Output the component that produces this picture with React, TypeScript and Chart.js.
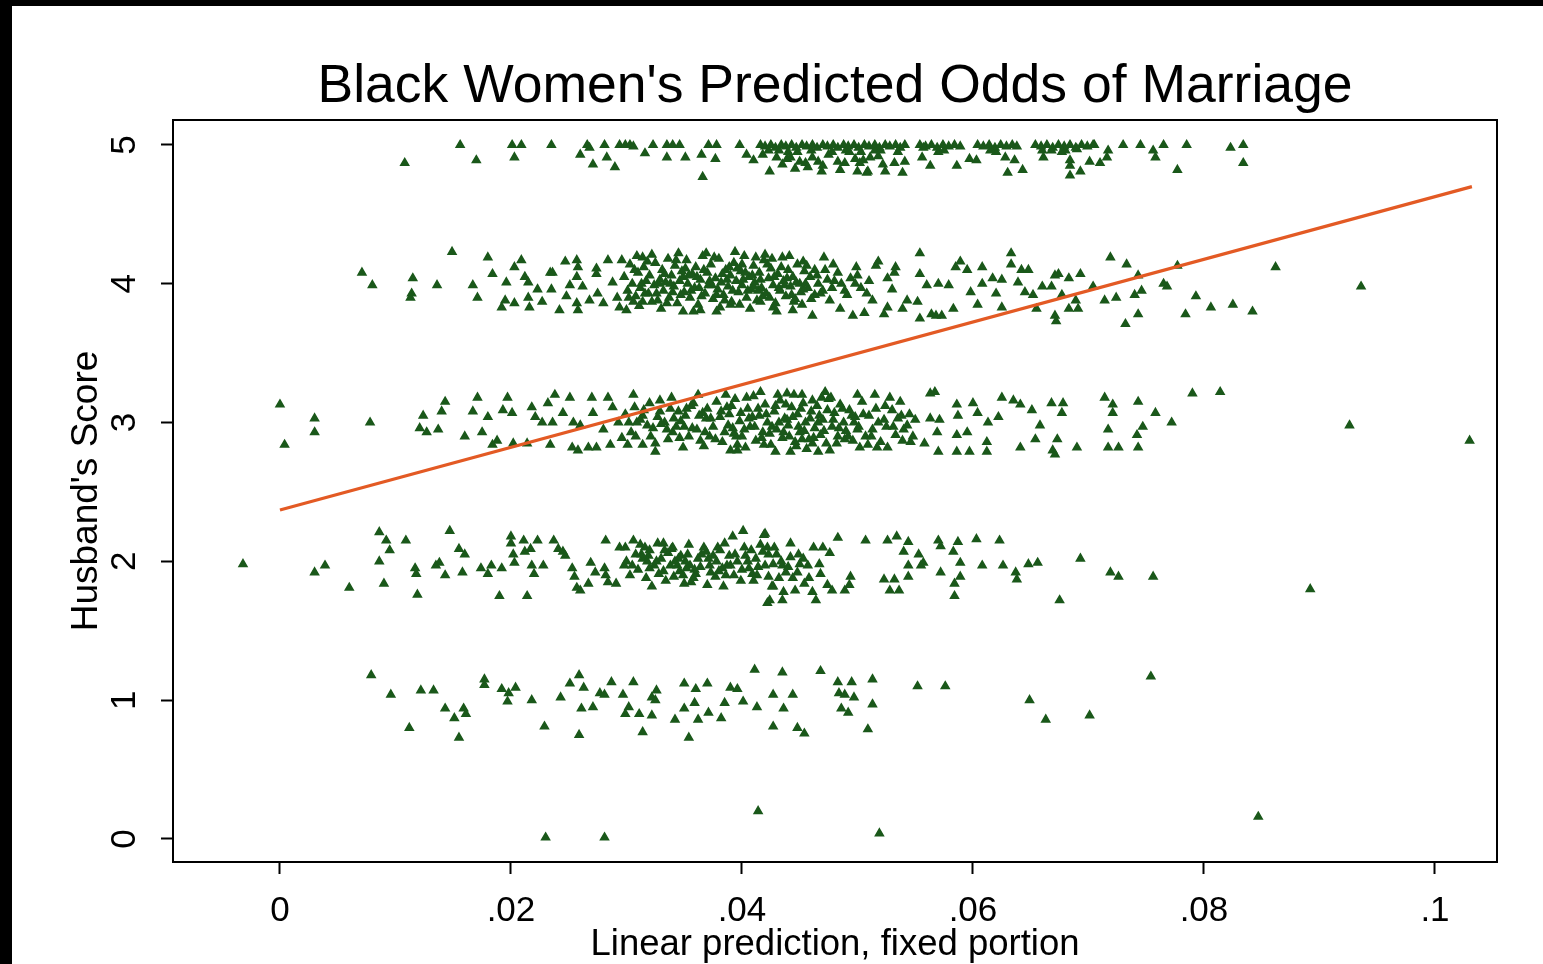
import React, { useEffect, useRef } from "react";
import { Chart, registerables } from "chart.js";

Chart.register(...registerables);

// x values are in thousandths of the linear prediction (x / 1000), y = husband's score (jittered)
const band5Points: [number, number][] = [
  [10.8, 4.87], [15.6, 5.0], [17.0, 4.89], [20.1, 5.0], [20.9, 5.0], [20.3, 4.91], [23.5, 5.0], [26.0, 4.93],
  [26.6, 5.0], [26.8, 4.98], [27.1, 4.86], [28.1, 5.0], [28.3, 4.91], [29.0, 4.84], [29.4, 5.0], [29.9, 5.0],
  [30.3, 5.0], [30.6, 4.99], [31.6, 4.94], [32.3, 5.0], [33.5, 5.0], [34.0, 5.0], [34.6, 5.0], [33.5, 4.91],
  [35.1, 4.91], [36.5, 4.93], [36.6, 4.77], [37.1, 5.0], [37.8, 5.0], [37.7, 4.9], [39.8, 5.0], [40.4, 4.93],
  [41.0, 4.89],
  [41.6, 5.0], [42.0, 4.99], [42.5, 5.0], [42.9, 4.98], [43.4, 5.0], [43.8, 4.99], [44.3, 5.0], [44.7, 4.98],
  [45.2, 5.0], [45.6, 4.99], [46.1, 5.0], [46.5, 4.98], [47.0, 5.0], [47.4, 4.99], [47.9, 5.0], [48.3, 4.98],
  [48.8, 5.0], [49.2, 4.99], [49.7, 5.0], [50.1, 4.98], [50.6, 5.0], [51.0, 4.99], [51.5, 5.0], [51.9, 4.98],
  [52.4, 5.0], [52.8, 4.99], [53.3, 5.0], [53.7, 4.98], [54.1, 5.0],
  [55.4, 5.0], [55.9, 4.99], [56.4, 5.0], [56.9, 4.98], [57.4, 5.0], [57.9, 4.99], [58.4, 5.0], [58.9, 4.99],
  [60.4, 5.0], [60.9, 4.99], [61.4, 5.0], [61.9, 4.98], [62.4, 5.0], [62.9, 4.99], [63.4, 5.0], [63.8, 4.99],
  [65.4, 5.0], [65.9, 4.99], [66.4, 5.0], [66.9, 4.98], [67.4, 5.0], [67.9, 4.99], [68.4, 5.0], [68.9, 4.98],
  [69.4, 5.0], [69.9, 4.99], [70.5, 5.0],
  [42.3, 4.96], [43.2, 4.96], [44.0, 4.95], [46.0, 4.96], [47.8, 4.95], [49.0, 4.96], [50.3, 4.95], [52.0, 4.96],
  [57.5, 4.96], [62.0, 4.95], [66.0, 4.96], [68.0, 4.96],
  [42.4, 4.81], [43.0, 4.91], [44.2, 4.91], [45.0, 4.88], [45.5, 4.87], [46.1, 4.91], [46.9, 4.81], [48.3, 4.88],
  [48.9, 4.87], [48.5, 4.82], [50.0, 4.81], [50.9, 4.81], [50.2, 4.87], [51.1, 4.91], [50.5, 4.89], [50.8, 4.8],
  [52.2, 4.86], [52.4, 4.81], [53.2, 4.87], [53.9, 4.8], [54.1, 4.88], [55.7, 4.98], [55.6, 4.91], [56.3, 4.85],
  [58.6, 4.85], [59.7, 4.9], [60.3, 4.89], [62.8, 4.91], [63.0, 4.8], [63.6, 4.89], [64.3, 4.82], [66.1, 4.91],
  [67.7, 4.95], [68.4, 4.89], [68.4, 4.85], [68.4, 4.78], [69.3, 4.81], [70.1, 4.88], [71.0, 4.87], [70.4, 5.0],
  [71.7, 4.96], [71.6, 4.91], [73.0, 5.0], [74.5, 5.0], [75.6, 4.96], [75.8, 4.91], [76.5, 5.0], [77.7, 4.82],
  [78.5, 5.0], [82.3, 4.98], [83.4, 5.0], [83.4, 4.87],
  [44.8, 4.95], [47.5, 4.93], [49.3, 4.95], [51.5, 4.96], [53.5, 4.95], [57.0, 4.95], [61.5, 4.96], [66.8, 4.96],
  [69.0, 4.97], [45.7, 4.84], [43.5, 4.86], [41.8, 4.93], [43.9, 4.9], [46.6, 4.88], [49.8, 4.9], [51.8, 4.92],
  [47.0, 4.85], [44.6, 4.83],
];

const band4Points: [number, number][] = [
  [7.1, 4.08], [8.0, 3.99], [11.5, 4.04], [11.4, 3.93], [11.3, 3.9], [13.6, 3.99], [14.9, 4.23], [16.7, 3.99],
  [17.1, 3.9], [18.0, 4.19], [18.4, 4.07], [19.2, 3.83], [19.5, 3.88], [19.6, 4.01], [20.3, 4.12], [20.3, 3.86],
  [20.9, 4.17], [21.2, 4.05], [21.5, 4.01], [21.5, 3.9], [21.6, 3.83], [22.3, 3.96], [22.7, 3.87], [23.4, 4.08],
  [23.6, 4.08], [24.2, 3.81], [23.5, 3.96], [24.7, 4.16], [24.8, 3.91], [25.1, 3.99], [25.7, 4.17], [25.8, 4.12],
  [25.7, 4.05], [25.7, 3.86], [25.8, 3.81], [26.2, 3.98], [26.8, 3.88], [27.4, 4.11], [27.4, 4.07], [27.5, 3.93],
  [28.0, 3.86], [28.4, 4.17], [28.8, 4.01], [29.2, 3.9], [29.4, 3.83], [30.0, 3.81], [30.6, 3.87], [31.4, 3.87],
  [31.4, 4.19], [32.2, 4.21], [34.9, 3.8], [36.4, 3.81], [37.8, 3.8], [39.0, 3.85], [41.6, 3.87], [42.7, 3.83],
  [44.4, 3.81],
  [45.2, 3.85], [45.3, 4.16], [45.5, 4.0], [46.1, 3.77], [46.3, 3.92], [47.1, 4.19], [47.9, 4.14], [48.3, 4.08],
  [48.5, 3.82], [49.1, 3.92], [49.6, 3.77], [49.9, 4.12], [50.0, 4.06], [50.6, 3.79], [51.3, 3.88], [51.6, 4.13],
  [51.8, 4.16], [52.3, 3.78], [52.6, 4.04], [52.6, 3.83], [53.0, 3.96], [53.2, 4.08], [53.3, 4.12], [53.9, 3.82],
  [54.3, 3.88], [55.2, 3.87], [55.4, 4.07], [55.4, 3.75], [55.4, 4.22], [56.0, 3.99], [56.4, 3.78], [56.8, 3.77],
  [57.0, 4.0], [57.3, 3.77], [57.9, 3.99], [58.3, 3.82], [58.5, 4.12], [58.9, 4.16], [59.5, 4.1], [59.8, 3.94],
  [60.4, 3.85], [60.8, 4.12], [60.8, 4.0], [61.7, 4.04], [62.0, 3.93], [62.5, 4.03], [62.5, 3.83], [63.3, 4.14],
  [63.3, 4.22], [63.9, 4.01], [64.2, 4.1], [64.5, 3.94], [64.8, 4.1], [65.2, 3.92], [65.5, 3.82], [66.0, 3.98],
  [66.8, 3.98], [67.1, 4.06], [67.4, 4.07], [67.1, 3.77], [67.2, 3.73], [67.7, 3.92], [68.3, 4.04], [68.3, 3.82],
  [68.9, 3.88], [69.1, 3.82], [69.3, 4.07], [70.4, 3.98], [71.4, 3.88], [71.9, 4.19], [72.4, 3.9], [73.2, 3.71],
  [73.3, 4.14], [74.0, 3.92], [74.3, 4.06], [74.3, 3.78], [74.6, 3.95], [76.5, 4.0], [76.8, 3.98], [77.7, 4.13],
  [78.4, 3.78], [79.3, 3.91], [80.6, 3.83], [82.5, 3.85], [84.2, 3.8], [86.2, 4.12], [93.6, 3.98],
  [29.8, 4.05], [30.1, 3.95], [30.3, 4.14], [30.5, 4.0], [30.8, 3.91], [31.0, 4.08], [31.2, 3.97], [31.5, 4.12],
  [31.7, 4.02], [31.9, 3.93], [32.0, 4.06], [32.4, 3.99], [32.5, 4.15], [32.7, 3.88], [32.9, 4.03], [33.1, 4.1],
  [33.2, 3.95], [33.4, 4.01], [33.6, 4.18], [33.7, 3.9], [33.9, 4.06], [34.1, 3.98], [34.2, 4.13], [34.4, 3.86],
  [34.6, 4.02], [34.8, 4.09], [35.0, 3.94], [35.2, 4.17], [35.3, 4.0], [35.5, 3.9], [35.7, 4.07], [35.9, 3.97],
  [36.0, 4.12], [36.2, 3.85], [36.4, 4.03], [36.6, 4.2], [36.8, 3.93], [37.0, 4.08], [37.1, 3.99], [37.3, 4.14],
  [37.5, 3.89], [37.7, 4.04], [37.9, 3.96], [38.0, 4.18], [38.2, 4.01], [38.4, 3.92], [38.6, 4.1], [38.8, 3.98],
  [39.0, 4.06], [39.1, 3.87], [39.3, 4.15], [39.5, 4.02], [39.7, 3.94], [39.9, 4.09], [40.0, 3.99], [40.2, 4.2],
  [40.4, 3.9], [40.6, 4.05], [40.8, 3.96], [41.0, 4.13], [41.1, 4.01], [41.3, 3.88], [41.5, 4.08], [41.7, 3.97],
  [41.9, 4.17], [42.1, 3.93], [42.3, 4.04], [42.5, 4.11], [42.7, 3.99], [42.9, 3.86], [43.1, 4.07], [43.3, 3.95],
  [43.5, 4.19], [43.6, 4.02], [43.8, 3.91], [44.0, 4.1], [44.2, 3.98], [44.4, 4.05], [44.6, 3.89], [44.8, 4.14],
  [45.0, 4.0], [45.1, 3.94], [45.4, 4.09], [45.7, 3.97], [45.9, 4.05], [46.3, 4.1], [46.6, 4.0], [47.0, 3.95],
  [47.4, 4.03], [47.8, 3.97], [48.6, 4.0], [49.4, 4.04], [50.3, 3.97], [51.0, 4.02], [29.6, 4.17], [31.1, 3.84],
  [33.0, 3.82], [35.8, 3.8], [38.1, 3.83], [40.7, 3.82], [43.0, 3.8], [36.9, 4.22], [39.4, 4.23], [34.5, 4.22],
  [42.0, 4.21], [44.1, 4.2], [30.9, 4.2], [32.6, 3.93], [34.9, 4.05], [37.4, 3.99], [40.1, 4.03], [41.4, 3.95],
  [30.2, 3.9], [30.7, 4.1], [31.3, 4.0], [31.8, 4.16], [32.2, 3.87], [32.8, 4.0], [33.3, 4.07], [33.5, 3.86],
  [34.0, 3.94], [34.3, 4.17], [34.7, 3.92], [35.1, 4.11], [35.6, 3.95], [36.1, 4.05], [36.5, 3.91], [36.7, 4.1],
  [37.2, 4.02], [37.6, 4.19], [38.3, 4.07], [38.5, 3.88], [38.9, 4.12], [39.2, 3.95], [39.6, 4.11], [39.8, 3.85],
  [40.3, 4.08], [40.5, 3.95], [40.9, 4.06], [41.2, 4.19], [41.6, 4.03], [41.8, 3.91], [42.2, 4.14], [42.4, 3.9],
  [42.8, 4.05], [43.2, 3.97], [43.4, 4.12], [43.9, 4.04], [44.3, 3.92], [44.7, 4.01], [45.3, 3.96], [45.6, 4.13],
  [46.0, 3.89], [46.5, 4.06], [47.2, 4.1], [47.6, 3.88], [48.0, 4.02], [48.9, 3.95], [49.8, 4.0], [50.8, 3.93],
  [33.8, 4.0], [36.3, 3.97], [38.7, 4.03], [41.0, 3.98], [43.7, 3.99], [35.4, 4.06], [37.8, 3.92], [40.0, 4.14],
  [42.6, 4.18], [44.5, 3.87], [46.8, 3.93], [31.6, 3.93],
];

const band3Points: [number, number][] = [
  [0.0, 3.13], [0.4, 2.84], [3.0, 3.03], [3.0, 2.93], [7.8, 3.0], [12.4, 3.05], [12.1, 2.96], [12.7, 2.93],
  [13.7, 2.95], [14.0, 3.08], [14.3, 3.15], [16.0, 2.9], [16.7, 3.08], [17.1, 3.18], [17.5, 2.93], [18.0, 3.04],
  [18.4, 2.84], [18.8, 2.87], [19.3, 3.09], [19.7, 3.18], [20.1, 3.07], [20.2, 2.85], [21.4, 2.85], [21.8, 3.11],
  [22.1, 3.04], [22.7, 3.0], [23.2, 3.14], [23.8, 3.2], [23.6, 3.0], [23.4, 2.84], [24.5, 3.07], [25.1, 3.18],
  [25.4, 3.0], [26.0, 2.98], [25.3, 2.82], [25.8, 2.8], [26.7, 2.82], [27.0, 3.18], [27.1, 3.07], [27.4, 2.82],
  [28.4, 3.18], [28.0, 2.95], [28.6, 2.84], [28.8, 3.11], [29.3, 3.0], [29.6, 2.89], [30.1, 2.84], [30.6, 3.2],
  [30.7, 3.11], [31.2, 3.02], [31.8, 2.98], [31.4, 2.84], [32.5, 2.85], [32.5, 2.79], [32.0, 3.14], [32.9, 3.16],
  [33.9, 3.18], [33.3, 3.0], [34.0, 2.93], [34.9, 2.82], [34.5, 3.08], [35.1, 3.05], [35.8, 3.14], [36.2, 3.2],
  [36.1, 2.95], [36.6, 3.07], [37.2, 2.9], [38.1, 3.04], [38.7, 3.11], [38.5, 2.93], [39.0, 2.8], [39.6, 2.84],
  [40.3, 2.82], [39.6, 2.8], [43.9, 3.21], [45.2, 3.2], [46.1, 3.16], [46.9, 3.18], [44.2, 2.79], [46.6, 2.79],
  [47.6, 2.8], [50.2, 2.82], [48.9, 2.88], [51.5, 3.2], [52.8, 3.18], [53.7, 3.15], [54.3, 2.98], [53.9, 2.87],
  [51.7, 2.82], [52.6, 2.82], [56.3, 3.21], [56.7, 3.22], [56.3, 3.03], [57.1, 3.02], [56.9, 2.93], [55.8, 2.85],
  [57.0, 2.79], [58.6, 3.13], [58.7, 3.05], [58.6, 2.91], [58.6, 2.79], [59.5, 2.93], [59.7, 2.79], [60.0, 3.14],
  [60.4, 3.07], [61.2, 2.86], [61.2, 2.79], [61.3, 3.0], [62.2, 3.04], [62.5, 3.18], [63.5, 3.16], [64.1, 3.13],
  [64.1, 2.82], [65.1, 3.09], [65.4, 2.88], [65.8, 2.98], [66.8, 3.14], [67.8, 3.14], [67.7, 3.07], [67.3, 2.88],
  [66.9, 2.8], [67.1, 2.77], [69.0, 2.82], [71.4, 3.18], [72.1, 3.13], [72.1, 3.07], [71.7, 2.95], [71.7, 2.82],
  [72.6, 2.82], [74.3, 3.15], [74.7, 2.97], [74.2, 2.91], [74.3, 2.82], [75.8, 3.07], [77.2, 3.0], [79.0, 3.21],
  [81.4, 3.22], [92.6, 2.98], [103.0, 2.87],
  [29.9, 3.06], [30.4, 2.93], [30.9, 3.0], [31.5, 3.09], [32.1, 2.9], [32.7, 3.04], [33.6, 2.88], [33.8, 3.1],
  [34.3, 2.97], [34.7, 3.01], [35.4, 2.9], [35.6, 3.12], [36.4, 2.87], [36.9, 3.03], [37.5, 2.97], [37.8, 3.15],
  [38.3, 2.86], [38.9, 3.06], [39.2, 2.96], [39.4, 3.17], [39.8, 3.01], [40.0, 2.9], [40.5, 3.1], [40.7, 2.97],
  [41.0, 3.19], [41.2, 2.87], [41.5, 3.05], [41.8, 2.93], [42.0, 3.13], [42.2, 3.0], [42.5, 2.84], [42.8, 3.08],
  [43.0, 2.95], [43.3, 3.16], [43.5, 2.89], [43.7, 3.03], [44.0, 2.98], [44.3, 3.11], [44.6, 2.86], [44.8, 3.06],
  [45.0, 2.93], [45.3, 3.14], [45.5, 3.0], [45.8, 2.88], [46.0, 3.08], [46.3, 2.96], [46.5, 3.12], [46.8, 2.91],
  [47.0, 3.02], [47.3, 2.85], [47.5, 3.17], [47.8, 2.97], [48.0, 3.07], [48.3, 2.9], [48.5, 3.13], [48.8, 3.0],
  [49.0, 2.94], [49.3, 3.09], [49.6, 2.87], [49.8, 3.04], [50.1, 2.97], [50.4, 3.15], [50.7, 2.9], [51.0, 3.05],
  [51.3, 2.95], [51.6, 3.1], [52.0, 2.86], [52.3, 3.02], [52.5, 2.97], [53.0, 3.09], [53.3, 2.91], [53.5, 3.03],
  [54.0, 2.95], [54.5, 3.06], [54.8, 2.9], [40.9, 3.04], [43.9, 3.02], [46.7, 3.05], [49.7, 3.0], [39.3, 2.92],
  [42.4, 2.92], [45.2, 2.88], [48.2, 2.85], [50.9, 2.84], [37.0, 3.1], [35.0, 2.97], [33.0, 2.99], [44.5, 3.2],
  [47.2, 3.22], [41.6, 3.22], [38.6, 3.2], [42.9, 2.79], [45.6, 2.81], [36.7, 2.83], [50.0, 3.2],
  [30.2, 3.0], [30.8, 2.9], [31.4, 3.05], [32.3, 2.96], [32.9, 3.08], [33.5, 2.95], [34.1, 3.03], [34.6, 2.89],
  [35.2, 3.1], [35.7, 2.96], [36.3, 3.05], [36.8, 2.93], [37.3, 3.03], [37.7, 2.88], [38.2, 3.08], [38.8, 2.98],
  [39.1, 3.12], [39.5, 2.9], [39.9, 3.07], [40.2, 2.95], [40.6, 3.03], [41.1, 2.97], [41.4, 3.1], [41.7, 2.89],
  [42.1, 3.06], [42.6, 2.97], [42.9, 3.12], [43.2, 3.0], [43.6, 2.93], [43.8, 3.13], [44.1, 2.9], [44.4, 3.04],
  [44.9, 2.97], [45.1, 3.1], [45.4, 2.94], [45.9, 3.03], [46.2, 2.89], [46.6, 3.0], [47.1, 2.94], [47.4, 3.09],
  [47.9, 3.02], [48.4, 2.96], [48.7, 3.1], [49.2, 2.9], [49.5, 3.05], [50.0, 2.95], [50.5, 3.06], [51.2, 2.9],
  [51.8, 3.0], [52.4, 3.12], [53.1, 2.97], [53.8, 3.05], [54.6, 2.86], [55.0, 3.02], [41.9, 2.84], [44.7, 2.83],
  [47.7, 3.18], [40.4, 3.18], [43.1, 3.2], [46.1, 2.85],
];

const band2Points: [number, number][] = [
  [-3.2, 1.98], [3.0, 1.92], [3.9, 1.97], [6.0, 1.81], [8.6, 2.21], [9.2, 2.15], [9.5, 2.08], [8.6, 2.0],
  [9.0, 1.84], [10.9, 2.15], [11.7, 1.95], [11.8, 1.91], [11.9, 1.76], [13.5, 1.97], [13.8, 1.99], [14.3, 1.9],
  [14.7, 2.22], [15.5, 2.09], [16.0, 2.05], [15.8, 1.92], [17.4, 1.95], [18.0, 1.91], [18.3, 1.97], [19.0, 1.75],
  [19.2, 1.95], [20.0, 2.18], [20.0, 2.13], [20.2, 2.05], [20.3, 1.99], [21.1, 2.15], [21.2, 2.07], [21.4, 1.75],
  [21.7, 2.09], [21.8, 1.97], [22.0, 1.91], [22.3, 2.15], [22.8, 1.97], [23.7, 2.15], [24.1, 2.09], [24.5, 2.07],
  [24.7, 2.04], [25.3, 1.95], [25.5, 1.89], [25.7, 1.81], [26.0, 1.79], [26.7, 1.84], [26.9, 1.99], [27.3, 1.92],
  [28.1, 1.95], [28.2, 1.9], [28.2, 2.15], [28.4, 1.85], [29.1, 1.84], [29.4, 2.1], [29.9, 2.1], [29.8, 1.97],
  [30.6, 2.15], [31.2, 2.12], [31.6, 2.1], [31.4, 2.02], [31.9, 2.04], [32.2, 1.82], [32.8, 1.91], [32.7, 2.13],
  [33.2, 2.13], [33.9, 2.09], [33.8, 1.97], [34.4, 1.97], [34.1, 1.89], [34.7, 2.04], [35.3, 2.05], [35.0, 1.84],
  [35.6, 1.85], [35.9, 1.94], [36.7, 2.1], [37.1, 2.02], [37.5, 2.04], [37.7, 1.89], [38.4, 1.82], [38.7, 1.97],
  [39.2, 2.18], [40.1, 2.22], [40.3, 2.04], [40.6, 1.95], [40.9, 1.91], [41.2, 2.02], [42.0, 2.2], [41.8, 2.07],
  [42.4, 1.72], [42.6, 1.82],
  [41.9, 2.19], [42.2, 2.1], [42.3, 2.05], [42.7, 1.98], [42.3, 1.89], [42.7, 1.82], [42.2, 1.7], [43.6, 1.78],
  [43.5, 1.72], [43.5, 1.97], [44.2, 2.13], [44.2, 2.03], [43.8, 1.92], [44.6, 1.79], [44.8, 1.92], [45.3, 2.02],
  [45.4, 1.84], [45.7, 1.97], [46.1, 1.78], [46.4, 1.72], [46.2, 2.1], [46.7, 1.98], [46.8, 1.91], [47.0, 2.1],
  [47.6, 2.06], [47.4, 1.83], [47.8, 1.79], [48.3, 2.17], [48.9, 1.79], [49.4, 1.89], [49.3, 1.83], [50.7, 2.15],
  [52.3, 1.87], [52.6, 2.15], [53.4, 2.18], [52.8, 1.79], [53.2, 1.87], [53.6, 1.79], [54.0, 2.07], [54.4, 1.97],
  [54.4, 1.89], [54.4, 2.14], [55.3, 2.05], [55.7, 1.99], [55.5, 1.97], [57.2, 1.92], [57.0, 2.15], [57.2, 2.11],
  [58.3, 2.07], [58.4, 1.84], [58.4, 1.75], [58.7, 2.14], [58.9, 1.99], [58.9, 1.89], [60.3, 2.16], [60.8, 1.97],
  [62.3, 2.15], [62.6, 1.97], [63.7, 1.92], [63.8, 1.87], [64.8, 1.98], [65.6, 1.99], [67.5, 1.72], [69.3, 2.02],
  [71.9, 1.92], [72.6, 1.89], [75.6, 1.89], [89.2, 1.8],
  [30.0, 2.0], [30.3, 1.9], [30.8, 2.05], [31.0, 1.94], [31.7, 1.88], [32.0, 2.08], [32.4, 1.97], [33.0, 2.02],
  [33.4, 1.86], [33.6, 2.06], [34.0, 2.1], [34.6, 1.93], [35.1, 2.0], [35.4, 2.12], [35.8, 1.88], [36.2, 2.02],
  [36.4, 1.96], [36.9, 2.07], [37.3, 1.92], [37.8, 2.0], [38.1, 2.08], [38.3, 1.95], [38.9, 2.04], [39.3, 1.9],
  [39.6, 2.0], [39.9, 1.86], [40.2, 2.1], [40.5, 2.0], [41.0, 1.86], [41.4, 1.96], [41.6, 2.12], [43.0, 2.05],
  [43.2, 1.88], [44.0, 1.96], [44.9, 2.05], [45.8, 1.88], [34.5, 2.02], [36.0, 1.91], [39.0, 1.97], [37.0, 1.83],
  [33.2, 1.93], [38.5, 2.13],
  [30.5, 1.97], [31.3, 2.05], [32.0, 1.95], [32.6, 2.0], [33.3, 2.08], [34.2, 2.0], [34.9, 1.9], [35.5, 1.97],
  [36.5, 2.05], [37.2, 1.97], [37.9, 2.1], [38.6, 1.9], [39.4, 2.05], [40.0, 1.94], [40.8, 2.08], [41.3, 1.9],
  [42.0, 1.97], [42.8, 2.1], [43.4, 2.0], [44.4, 1.88], [45.0, 1.98], [31.8, 2.0], [35.2, 1.95], [38.0, 1.93],
];

const band1Points: [number, number][] = [
  [7.9, 1.18], [9.6, 1.04], [11.2, 0.8], [12.2, 1.07], [13.3, 1.07], [14.3, 0.94], [15.1, 0.87], [15.5, 0.73],
  [15.9, 0.94], [16.1, 0.9], [17.7, 1.15], [17.7, 1.11], [19.2, 1.08], [19.7, 0.99], [19.8, 1.05], [20.4, 1.09],
  [21.8, 1.0], [22.9, 0.81], [24.3, 1.02], [25.1, 1.12], [25.9, 1.18], [26.3, 1.09], [25.9, 0.75], [26.1, 0.94],
  [27.1, 0.95], [27.7, 1.05], [28.1, 1.04], [28.7, 1.13], [29.7, 1.04], [29.9, 0.9], [30.2, 0.95], [30.6, 1.13],
  [31.1, 0.9], [31.4, 0.77], [32.2, 0.89], [32.2, 1.02], [32.5, 1.0], [32.6, 1.07], [34.2, 0.86], [35.0, 1.12],
  [35.0, 0.94], [35.4, 0.73], [35.9, 0.98], [36.0, 1.08], [36.2, 0.86], [37.0, 1.12], [37.1, 0.91], [38.2, 0.87],
  [38.5, 0.98], [39.0, 1.09], [39.6, 1.08], [40.1, 0.99], [41.3, 0.95], [41.1, 1.22], [42.7, 1.04], [42.7, 0.81],
  [43.5, 1.2], [43.6, 0.94], [44.4, 1.04], [44.8, 0.8], [45.4, 0.76], [46.8, 1.21], [48.3, 1.13], [49.5, 1.13],
  [48.4, 1.05], [48.9, 1.04], [49.7, 1.02], [48.6, 0.94], [49.2, 0.91], [51.3, 1.15], [51.3, 0.97], [50.9, 0.79],
  [55.2, 1.1], [57.6, 1.1], [64.9, 1.0], [66.3, 0.86], [70.1, 0.89], [75.4, 1.17],
];

const band0Points: [number, number][] = [
  [23.0, 0.01], [28.1, 0.01], [41.4, 0.2], [51.9, 0.04], [84.7, 0.16],
];

// fitted line end points
const fitX = [0, 0.1032];
const fitY = [2.37, 4.7];

const xTicks = [0, 0.02, 0.04, 0.06, 0.08, 0.1];
const yTicks = [0, 1, 2, 3, 4, 5];

const TITLE = "Black Women's Predicted Odds of Marriage";
const X_TITLE = "Linear prediction, fixed portion";
const Y_TITLE = "Husband's Score";

const FONT = '"Liberation Sans", Arial, sans-serif';
const MARKER = "#1a581a";
const LINE = "#e35a24";

const toXY = (pts: [number, number][]) => pts.map(([x, y]) => ({ x: x / 1000, y }));

const fmtX = (v: number) => (v === 0 ? "0" : String(v).replace(/^0/, ""));

export default function App() {
  const ref = useRef<HTMLCanvasElement | null>(null);

  useEffect(() => {
    if (!ref.current) return;
    const bands = [band5Points, band4Points, band3Points, band2Points, band1Points, band0Points];

    const framePlugin = {
      id: "frameAndYLabels",
      afterDraw(chart: any) {
        const { ctx, chartArea: a, scales } = chart;
        ctx.save();
        ctx.strokeStyle = "#000";
        ctx.lineWidth = 2;
        ctx.strokeRect(a.left, a.top, a.right - a.left, a.bottom - a.top);
        ctx.fillStyle = "#000";
        ctx.font = `35px ${FONT}`;
        ctx.textAlign = "center";
        ctx.textBaseline = "middle";
        for (const v of yTicks) {
          const y = scales.y.getPixelForValue(v);
          ctx.save();
          ctx.translate(a.left - 48, y);
          ctx.rotate(-Math.PI / 2);
          ctx.fillText(String(v), 0, 0);
          ctx.restore();
        }
        ctx.restore();
      },
    };

    const scatterSets = bands.map((b) => ({
      type: "scatter" as const,
      data: toXY(b),
      pointStyle: "triangle",
      pointRadius: 4.6,
      pointBorderWidth: 1.5,
      backgroundColor: MARKER,
      borderColor: MARKER,
      order: 2,
    }));

    const chart = new Chart(ref.current, {
      type: "scatter",
      data: {
        datasets: [
          ...scatterSets,
          {
            type: "line" as const,
            data: fitX.map((x, i) => ({ x, y: fitY[i] })),
            borderColor: LINE,
            borderWidth: 3.2,
            pointRadius: 0,
            showLine: true,
            fill: false,
            order: 1,
          } as any,
        ],
      },
      options: {
        responsive: false,
        animation: false,
        layout: { padding: { left: 0, right: 46, top: 0, bottom: 0 } },
        plugins: {
          legend: { display: false },
          tooltip: { enabled: false },
          title: {
            display: true,
            text: TITLE,
            color: "#000",
            fullSize: false,
            font: { family: FONT, size: 53.5, weight: "normal", lineHeight: 1.2 },
            padding: { top: 49, bottom: 0.8 },
          },
        },
        scales: {
          x: {
            type: "linear",
            min: -0.00926,
            max: 0.10537,
            afterBuildTicks: (s: any) => {
              s.ticks = xTicks.map((v) => ({ value: v }));
            },
            afterFit: (s: any) => {
              s.height = 102;
            },
            grid: {
              drawOnChartArea: false,
              drawTicks: true,
              tickLength: 12,
              tickWidth: 2,
              tickColor: "#000",
            },
            border: { display: true, color: "#000", width: 2 },
            ticks: {
              color: "#000",
              padding: 16,
              maxRotation: 0,
              autoSkip: false,
              font: { family: FONT, size: 35 },
              callback: (v: any) => fmtX(Number(v)),
            },
            title: {
              display: true,
              text: X_TITLE,
              color: "#000",
              font: { family: FONT, size: 36.5, lineHeight: 1 },
              padding: { top: 0, bottom: 1 },
            },
          },
          y: {
            type: "linear",
            min: -0.166,
            max: 5.18,
            afterBuildTicks: (s: any) => {
              s.ticks = yTicks.map((v) => ({ value: v }));
            },
            afterFit: (s: any) => {
              s.width = 161;
            },
            grid: {
              drawOnChartArea: false,
              drawTicks: true,
              tickLength: 12,
              tickWidth: 2,
              tickColor: "#000",
            },
            border: { display: true, color: "#000", width: 2 },
            ticks: { display: false },
            title: {
              display: true,
              text: Y_TITLE,
              color: "#000",
              font: { family: FONT, size: 37, lineHeight: 1 },
              padding: { top: 56, bottom: 0 },
            },
          },
        },
      },
      plugins: [framePlugin],
    } as any);

    return () => chart.destroy();
  }, []);

  return (
    <div style={{ position: "fixed", inset: 0, background: "#000" }}>
      <div
        style={{
          position: "absolute",
          left: 12,
          top: 6,
          width: 1531,
          height: 958,
          background: "#fff",
        }}
      >
        <canvas ref={ref} width={1531} height={958} style={{ display: "block" }} />
      </div>
    </div>
  );
}
